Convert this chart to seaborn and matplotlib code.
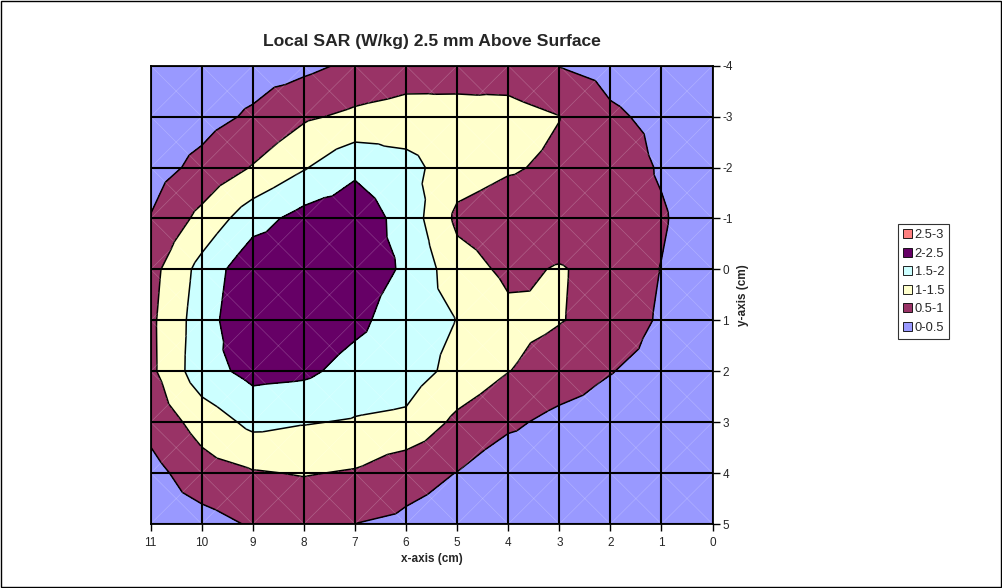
import numpy as np
import matplotlib
matplotlib.use("Agg")
import matplotlib.pyplot as plt
import matplotlib.tri as mtri
from matplotlib.patches import Patch, Rectangle
import seaborn as sns

# grid positions (cm) and SAR values, columns x = 11 .. 0
x_cm = [11, 10, 9, 8, 7, 6, 5, 4, 3, 2, 1, 0]
y_cm = [-4, -3, -2, -1, 0, 1, 2, 3, 4, 5]

sar_y_m4 = [0.15, 0.20, 0.28, 0.38, 0.60, 0.75, 0.80, 0.72, 0.49, 0.35, 0.25, 0.18]
sar_y_m3 = [0.20, 0.33, 0.57, 0.93, 1.10, 1.20, 1.16, 1.20, 1.01, 0.57, 0.39, 0.25]
sar_y_m2 = [0.30, 0.63, 1.03, 1.46, 1.90, 1.67, 1.22, 1.05, 0.91, 0.80, 0.447, 0.20]
sar_y_m1 = [0.52, 1.14, 1.795, 2.18, 2.30, 1.81, 0.90, 0.74, 0.75, 0.72, 0.557, 0.15]
sar_y_0 = [0.83, 1.67, 2.36, 2.40, 2.20, 1.95, 1.20, 0.906, 1.031, 0.86, 0.486, 0.15]
sar_y_1 = [0.90, 1.76, 2.45, 2.35, 2.12, 1.75, 1.49, 1.11, 1.02, 0.86, 0.425, 0.12]
sar_y_2 = [0.89, 1.80, 2.15, 2.10, 1.82, 1.73, 1.35, 1.01, 0.80, 0.52, 0.30, 0.10]
sar_y_3 = [0.66, 1.20, 1.63, 1.53, 1.46, 1.40, 0.89, 0.60, 0.35, 0.25, 0.15, 0.08]
sar_y_4 = [0.33, 0.79, 0.96, 1.03, 0.955, 0.67, 0.49, 0.15, 0.12, 0.10, 0.08, 0.05]
sar_y_5 = [0.20, 0.31, 0.55, 0.60, 0.497, 0.41, 0.30, 0.10, 0.08, 0.06, 0.05, 0.04]

levels = [0, 0.5, 1, 1.5, 2, 2.5, 3]
level_labels = ["0-0.5", "0.5-1", "1-1.5", "1.5-2", "2-2.5", "2.5-3"]
level_colors = ["#9999FF", "#993366", "#FFFFCC", "#CCFFFF", "#660066", "#FF8080"]

Z = np.array([sar_y_m4, sar_y_m3, sar_y_m2, sar_y_m1, sar_y_0,
              sar_y_1, sar_y_2, sar_y_3, sar_y_4, sar_y_5])

# excel-like surface: every cell split into 4 triangles around its centre
ny, nx = Z.shape
px, py, pz = [], [], []
for j in range(ny):
    for i in range(nx):
        px.append(x_cm[i]); py.append(y_cm[j]); pz.append(Z[j, i])
tris = []
for j in range(ny - 1):
    for i in range(nx - 1):
        a = j * nx + i
        b = a + 1
        c = a + nx
        d = c + 1
        px.append((x_cm[i] + x_cm[i + 1]) / 2)
        py.append((y_cm[j] + y_cm[j + 1]) / 2)
        pz.append(Z[j:j + 2, i:i + 2].mean())
        m = len(px) - 1
        tris += [[a, b, m], [b, d, m], [d, c, m], [c, a, m]]
tri = mtri.Triangulation(px, py, tris)

sns.set_theme(style="white")
plt.rcParams['font.family'] = ['Liberation Sans', 'DejaVu Sans']
plt.rcParams['axes.unicode_minus'] = False

fig = plt.figure(figsize=(10.03, 5.88), dpi=100)
ax = fig.add_axes([0.1502, 0.1088, 0.5602, 0.7795])

ax.tricontourf(tri, pz, levels=levels, colors=level_colors)
ax.tricontour(tri, pz, levels=levels[1:-1], colors='black', linewidths=1.1)

# faint mesh diagonals
for j in range(ny - 1):
    for i in range(nx - 1):
        ax.plot([x_cm[i], x_cm[i + 1]], [y_cm[j], y_cm[j + 1]], color='white', lw=0.5, alpha=0.22)
        ax.plot([x_cm[i], x_cm[i + 1]], [y_cm[j + 1], y_cm[j]], color='white', lw=0.5, alpha=0.22)

ax.set_xlim(11, 0)
ax.set_ylim(5, -4)
ax.set_xticks(x_cm)
ax.set_yticks(y_cm)
ax.grid(True, color='black', lw=1.5)
ax.set_axisbelow(False)
ax.yaxis.tick_right()
ax.yaxis.set_label_position('right')
ax.tick_params(axis='x', direction='out', length=5, width=1, color='black',
               labelsize=8.5, pad=4, bottom=True, top=False)
ax.tick_params(axis='y', direction='out', length=5, width=1, color='black',
               labelsize=8.5, pad=2, right=True, left=False)
for s in ax.spines.values():
    s.set_color('black')
    s.set_linewidth(1.3)

ax.set_xlabel('x-axis (cm)', fontsize=8.5, fontweight='bold', labelpad=3)
ax.set_ylabel('y-axis (cm)', fontsize=8.5, fontweight='bold', labelpad=3)
ax.set_title('Local SAR (W/kg) 2.5 mm Above Surface', fontsize=12.6, fontweight='bold', pad=14)

handles = [Patch(facecolor=c, edgecolor='black', linewidth=0.6, label=l)
           for c, l in zip(level_colors, level_labels)]
leg = fig.legend(handles=handles[::-1], loc='upper left', bbox_to_anchor=(0.8953, 0.619),
                 fontsize=9.3, frameon=True, fancybox=False, handlelength=0.7,
                 handleheight=0.7, handletextpad=0.2, labelspacing=0.5,
                 borderpad=0.4, borderaxespad=0)
leg.get_frame().set_edgecolor('black')
leg.get_frame().set_linewidth(0.8)

fig.patches.append(Rectangle((0.001, 0.002), 0.997, 0.996, transform=fig.transFigure,
                             fill=False, edgecolor='black', lw=1))

fig.savefig('out.png', dpi=100)
